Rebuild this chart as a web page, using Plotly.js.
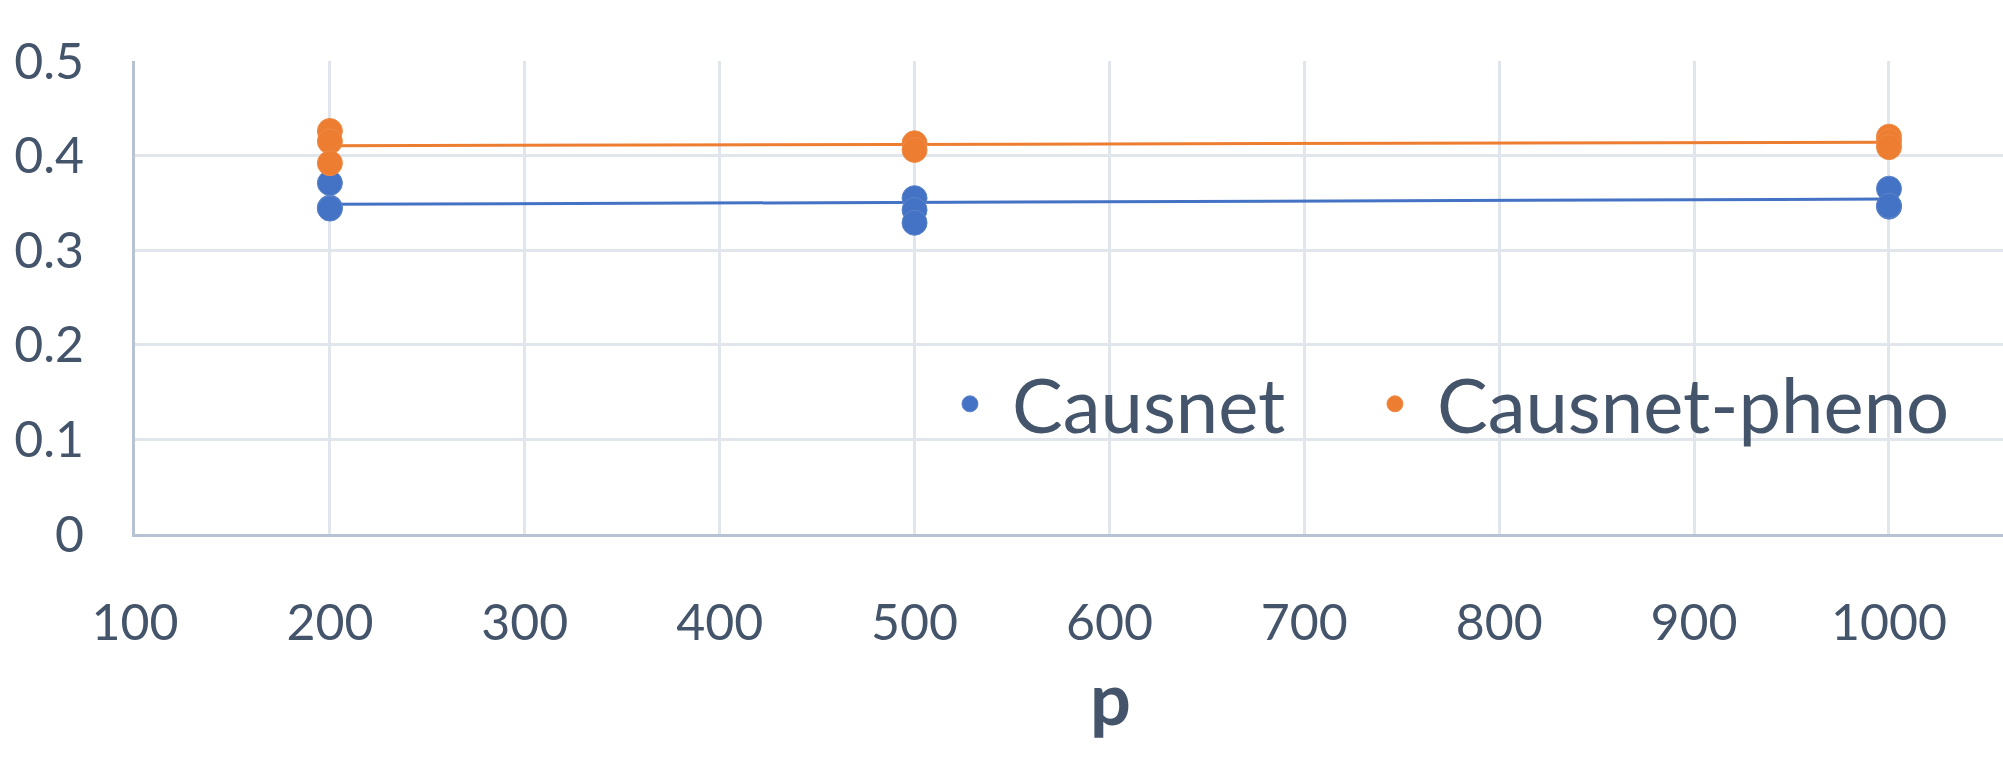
<!DOCTYPE html>
<html>
<head>
<meta charset="utf-8">
<script src="https://cdn.plot.ly/plotly-3.0.1.min.js"></script>
<style>
  html, body { margin: 0; padding: 0; background: #fff; }
  #chart { width: 2003px; height: 775px; }
</style>
</head>
<body>
<div id="chart"></div>
<script>
// replicate runs per p value
var causnetX = [200, 200, 200, 500, 500, 500, 1000, 1000, 1000];
var causnetY = [0.371, 0.345, 0.344, 0.355, 0.3425, 0.329, 0.365, 0.346, 0.347];

var phenoX = [200, 200, 200, 500, 500, 1000, 1000, 1000];
var phenoY = [0.426, 0.415, 0.392, 0.413, 0.406, 0.420, 0.415, 0.409];

// linear trendlines (as drawn in the chart)
var trendX = [200, 1000];
var causnetTrendY = [0.3485, 0.354];
var phenoTrendY = [0.4105, 0.4141];

var blue = '#4472C4';
var orange = '#ED7D31';
var textCol = '#44546A';

var trendBlue = {
    x: trendX, y: causnetTrendY,
    mode: 'lines', showlegend: false, hoverinfo: 'skip',
    line: {color: blue, width: 3}
};
var trendOrange = {
    x: trendX, y: phenoTrendY,
    mode: 'lines', showlegend: false, hoverinfo: 'skip',
    line: {color: orange, width: 3}
};
var causnet = {
    x: causnetX, y: causnetY,
    mode: 'markers', name: 'Causnet', legend: 'legend',
    marker: {color: blue, size: 25, line: {color: '#5B84CC', width: 1}}
};
var pheno = {
    x: phenoX, y: phenoY,
    mode: 'markers', name: 'Causnet-pheno', legend: 'legend2',
    marker: {color: orange, size: 25, line: {color: '#F08A45', width: 1}}
};

var data = [trendBlue, trendOrange, causnet, pheno];

var legendStyle = function (xpos) {
    return {
        x: xpos, y: 0.275, xanchor: 'left', yanchor: 'middle',
        font: {size: 76, color: textCol},
        bgcolor: 'rgba(0,0,0,0)',
        itemwidth: 74
    };
};

var layout = {
    width: 2003, height: 775,
    margin: {l: 135, r: 0, t: 61, b: 241},
    paper_bgcolor: '#fff', plot_bgcolor: '#fff',
    font: {family: 'Lato, sans-serif', color: textCol, size: 50},
    showlegend: true,
    legend: legendStyle(0.4245),
    legend2: legendStyle(0.652),
    xaxis: {
        range: [100, 1058.5], tick0: 100, dtick: 100,
        showgrid: true, gridcolor: '#E1E5EC', gridwidth: 3,
        zeroline: false,
        showline: true, linecolor: '#B7C2D4', linewidth: 3,
        ticks: '', ticklabelstandoff: 43,
        tickfont: {size: 50, color: textCol},
        automargin: false
    },
    yaxis: {
        range: [0, 0.5], tick0: 0, dtick: 0.1,
        showgrid: true, gridcolor: '#E1E5EC', gridwidth: 3,
        zeroline: false,
        showline: true, linecolor: '#B7C2D4', linewidth: 3,
        ticks: '', ticklabelstandoff: 38,
        tickfont: {size: 50, color: textCol},
        automargin: false
    },
    // x axis title sits off-centre in the original (its axis runs past the crop)
    annotations: [{
        text: '<b>p</b>', showarrow: false,
        xref: 'paper', yref: 'paper', x: 0.522, y: -0.345,
        xanchor: 'center', yanchor: 'middle',
        font: {size: 72, color: textCol}
    }]
};

Plotly.newPlot('chart', data, layout, {displayModeBar: false, staticPlot: true});
</script>
</body>
</html>
